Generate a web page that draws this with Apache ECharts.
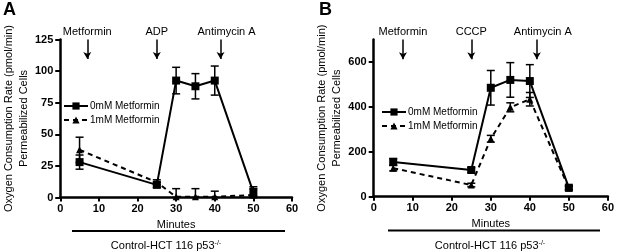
<!DOCTYPE html>
<html>
<head>
<meta charset="utf-8">
<script src="https://cdn.jsdelivr.net/npm/echarts@6/dist/echarts.min.js"></script>
<style>
html,body{margin:0;padding:0;background:#fff;}
#c{width:617px;height:252px;}
</style>
</head>
<body>
<div id="c"></div>
<script>
// ---- data ----
var minutes = [5, 25, 30, 35, 40, 50];
var seriesNames = ['0mM Metformin', '1mM Metformin'];

var aCtrl = [28, 10, 92.5, 88, 92.5, 4];
var aCtrlErr = [5.6, 2, 10.5, 10, 11.5, 3];
var aMet = [37.7, 12, 0.5, 0.5, 0.5, 2];
var aMetErr = [10, 2, 6.5, 6.5, 4.5, 6.5];

var bCtrl = [155, 119, 485, 520, 515, 40];
var bCtrlErr = [15, 10, 77, 77, 73, 8];
var bMet = [127, 52, 258, 398, 434, 38];
var bMetErr = [12, 8, 15, 20, 30, 8];

var xTicks = [0, 10, 20, 30, 40, 50, 60];
var aYTicks = [0, 25, 50, 75, 100, 125];
var bYTicks = [0, 200, 400, 600];

var aArrowX = [7, 25, 41.5];
var aArrowLabels = ['Metformin', 'ADP', 'Antimycin A'];
var bArrowX = [7.5, 25, 41.8];
var bArrowLabels = ['Metformin', 'CCCP', 'Antimycin A'];

var xTitle = 'Minutes';
var yTitle = 'Oxygen Consumption Rate (pmol/min)\nPermeabilized Cells';
var groupLabel = 'Control-HCT 116 p53';
var groupSup = '-/-';

// ---- helpers ----
var FONT = "'Liberation Sans', Arial, sans-serif";
var NARROW = "'Liberation Sans Narrow', 'Liberation Sans', Arial, sans-serif";

function pairs(xs, ys) { return xs.map(function (x, i) { return [x, ys[i]]; }); }
function errData(xs, ys, es) { return xs.map(function (x, i) { return [x, Math.max(0, ys[i] - es[i]), ys[i] + es[i]]; }); }

function errSeries(idx, xs, ys, es) {
  return {
    type: 'custom', xAxisIndex: idx, yAxisIndex: idx, silent: true, z: 1,
    data: errData(xs, ys, es),
    renderItem: function (params, api) {
      var x = api.value(0);
      var lo = api.coord([x, api.value(1)]);
      var hi = api.coord([x, api.value(2)]);
      var w = 4;
      var st = { stroke: '#000', lineWidth: 1.5 };
      return {
        type: 'group',
        children: [
          { type: 'line', shape: { x1: lo[0], y1: lo[1], x2: hi[0], y2: hi[1] }, style: st },
          { type: 'line', shape: { x1: hi[0] - w, y1: hi[1], x2: hi[0] + w, y2: hi[1] }, style: st },
          { type: 'line', shape: { x1: lo[0] - w, y1: lo[1], x2: lo[0] + w, y2: lo[1] }, style: st }
        ]
      };
    }
  };
}

function arrows(xs, labels, top, bottom) {
  return {
    silent: true, animation: false,
    symbol: ['none', 'arrow'], symbolSize: [6, 7],
    lineStyle: { color: '#000', width: 1.5, type: 'solid' },
    label: { show: true, position: 'start', formatter: '{b}', color: '#000', fontSize: 11, fontFamily: FONT, distance: 2 },
    emphasis: { disabled: true },
    data: xs.map(function (x, i) {
      var start = { coord: [x, top], name: labels[i] };
      if (i === xs.length - 1) start.label = { offset: [6, 0] };
      return [start, { coord: [x, bottom] }];
    })
  };
}

function lineSeries(idx, name, xs, ys, dashed, markLine) {
  var s = {
    type: 'line', name: name, xAxisIndex: idx, yAxisIndex: idx, z: 3,
    data: pairs(xs, ys),
    symbol: dashed ? 'triangle' : 'rect',
    symbolSize: dashed ? 7 : 8,
    itemStyle: { color: '#000' },
    lineStyle: { color: '#000', width: 2, type: dashed ? [5, 4] : 'solid' }
  };
  if (markLine) s.markLine = markLine;
  return s;
}

function xAxis(idx) {
  return {
    type: 'value', gridIndex: idx, min: 0, max: 60, interval: 10,
    name: xTitle, nameLocation: 'middle', nameGap: 16,
    nameTextStyle: { color: '#000', fontSize: 11, fontFamily: FONT },
    axisLine: { show: true, onZero: false, lineStyle: { color: '#000', width: 2.5 } },
    axisTick: { show: true, length: 4, lineStyle: { color: '#000', width: 2 }, customValues: xTicks },
    axisLabel: { color: '#000', fontSize: 11, fontWeight: 'bold', fontFamily: NARROW, margin: 6, customValues: xTicks },
    splitLine: { show: false }
  };
}

function yAxis(idx, max, interval, ticks) {
  return {
    type: 'value', gridIndex: idx, min: 0, max: max, interval: interval,
    name: yTitle, nameLocation: 'middle', nameRotate: 90, nameGap: 28,
    nameTextStyle: { color: '#000', fontSize: 11, fontFamily: FONT, lineHeight: 15 },
    axisLine: { show: true, onZero: false, lineStyle: { color: '#000', width: 2.5 } },
    axisTick: { show: true, length: 5, lineStyle: { color: '#000', width: 2 }, customValues: ticks },
    axisLabel: { color: '#000', fontSize: 11, fontWeight: 'bold', fontFamily: NARROW, margin: 7, customValues: ticks },
    splitLine: { show: false }
  };
}

function legend(left, top) {
  return {
    left: left, top: top, orient: 'vertical',
    itemWidth: 24, itemHeight: 9, itemGap: 4,
    textStyle: { color: '#000', fontSize: 10, fontFamily: FONT, padding: [0, 0, 0, -3] },
    data: seriesNames, selectedMode: false
  };
}

var chart = echarts.init(document.getElementById('c'), null, { renderer: 'canvas' });
chart.setOption({
  animation: false,
  backgroundColor: '#fff',
  grid: [
    { left: 54, top: 39.5, width: 238, height: 158 },
    { left: 373.7, top: 39.5, width: 236, height: 157.2 }
  ],
  xAxis: [xAxis(0), xAxis(1)],
  yAxis: [yAxis(0, 125, 25, aYTicks), yAxis(1, 700, 100, bYTicks)],
  legend: [legend(58, 96), legend(376, 102)],
  series: [
    errSeries(0, minutes, aCtrl, aCtrlErr),
    errSeries(0, minutes, aMet, aMetErr),
    lineSeries(0, seriesNames[0], minutes, aCtrl, false, arrows(aArrowX, aArrowLabels, 125, 109.5)),
    lineSeries(0, seriesNames[1], minutes, aMet, true),
    errSeries(1, minutes, bCtrl, bCtrlErr),
    errSeries(1, minutes, bMet, bMetErr),
    lineSeries(1, seriesNames[0], minutes, bCtrl, false, arrows(bArrowX, bArrowLabels, 700, 612)),
    lineSeries(1, seriesNames[1], minutes, bMet, true)
  ],
  graphic: [
    { type: 'text', left: 3, top: 1, style: { text: 'A', font: 'bold 18px ' + FONT, fill: '#000' } },
    { type: 'text', left: 319, top: 1, style: { text: 'B', font: 'bold 18px ' + FONT, fill: '#000' } },
    { type: 'line', shape: { x1: 72, y1: 231, x2: 285, y2: 231 }, style: { stroke: '#000', lineWidth: 2 } },
    { type: 'line', shape: { x1: 388, y1: 230.5, x2: 600, y2: 230.5 }, style: { stroke: '#000', lineWidth: 2 } },
    { type: 'text', x: 166, y: 246, style: { text: '{n|' + groupLabel + '}{s|' + groupSup + '}', align: 'center', verticalAlign: 'middle',
        rich: { n: { fontSize: 11, fontFamily: FONT, fill: '#000' }, s: { fontSize: 7, fontFamily: FONT, fill: '#000', verticalAlign: 'top', padding: [0, 0, 6, 0] } } } },
    { type: 'text', x: 490, y: 246, style: { text: '{n|' + groupLabel + '}{s|' + groupSup + '}', align: 'center', verticalAlign: 'middle',
        rich: { n: { fontSize: 11, fontFamily: FONT, fill: '#000' }, s: { fontSize: 7, fontFamily: FONT, fill: '#000', verticalAlign: 'top', padding: [0, 0, 6, 0] } } } }
  ]
});
</script>
</body>
</html>
